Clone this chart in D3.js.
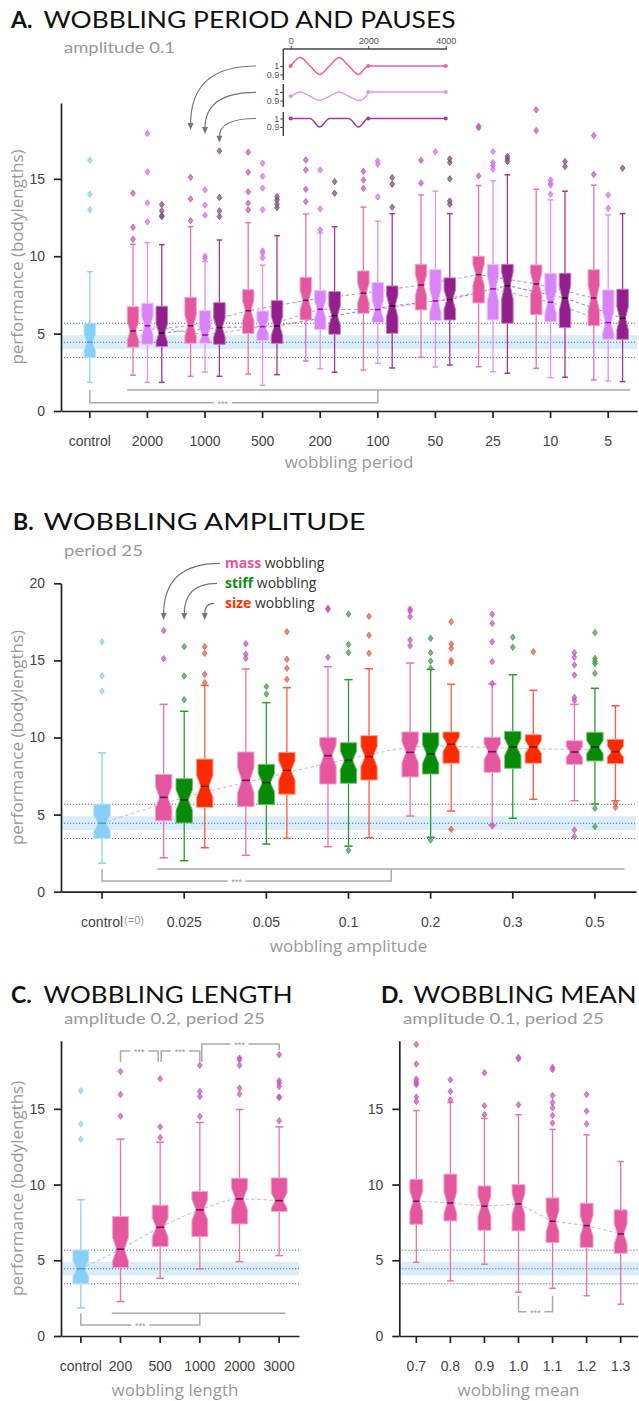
<!DOCTYPE html>
<html>
<head>
<meta charset="utf-8">
<script src="https://cdn.jsdelivr.net/npm/d3@7"></script>
<style>
  body { margin: 0; background: #fff; }
</style>
</head>
<body>
<div id="chart"></div>
<script>
// ---- data ----
// box stats are [lower whisker, q1, median, q3, upper whisker]
const controlStats = [1.85, 3.45, 4.44, 5.67, 9.0];
const controlOut = [13.0, 14.0, 16.2];
const controlCI = [4.0, 4.9];

const periodCats = ["control", "2000", "1000", "500", "200", "100", "50", "25", "10", "5"];
const periodSine = [
  [2.31, 4.12, 5.17, 6.74, 10.77], [2.24, 4.37, 5.51, 7.35, 11.91], [2.39, 5.0, 6.48, 7.84, 12.17],
  [3.23, 5.88, 7.15, 8.64, 12.73], [2.65, 6.31, 7.61, 9.05, 13.17], [3.47, 6.53, 8.14, 9.48, 13.96],
  [2.86, 6.98, 8.81, 10.0, 14.57], [2.76, 6.22, 8.21, 9.44, 14.33], [2.0, 5.51, 7.3, 9.13, 14.59]];
const periodSineOut = [
  [11.1, 11.87, 14.07], [12.3, 13.7, 15.1], [12.99, 13.43, 14.16, 15.43, 16.72],
  [13.53, 14.33, 15.58, 16.22], [14.39, 14.93, 15.49], [14.72, 16.2],
  [15.19, 18.3, 18.4], [18.12, 19.46], [15.28, 17.8]];
const periodLower = [
  [1.85, 4.31, 5.51, 6.96, 10.88], [2.52, 4.37, 4.91, 6.48, 9.65], [1.66, 4.55, 5.45, 6.46, 9.42],
  [2.73, 5.26, 6.57, 7.78, 11.5], [3.08, 5.71, 6.55, 8.3, 12.26], [2.84, 5.84, 7.11, 9.13, 14.2],
  [2.54, 5.88, 7.89, 9.46, 14.87], [2.15, 5.77, 7.03, 8.9, 13.64], [1.94, 4.63, 5.71, 7.82, 12.67]];
const periodLowerOut = [
  [12.22, 13.45, 15.45, 17.93], [9.85, 10.0, 12.65, 13.3, 14.29], [9.9, 10.2, 10.34, 13.01, 14.4, 15.17, 16.01],
  [11.7, 13.06, 15.58], [13.83, 15.95, 16.16], [16.76],
  [15.62, 15.86, 16.05, 16.76], [14.01, 14.6, 14.72, 14.93], [13.1, 13.96]];
const periodDips = [
  [1.85, 4.16, 5.04, 6.77, 10.75], [2.24, 4.31, 5.39, 7.0, 11.05], [2.35, 4.37, 5.49, 7.13, 11.33],
  [2.5, 4.96, 6.16, 7.71, 11.91], [2.78, 5.02, 6.79, 8.08, 12.75], [2.97, 5.88, 7.2, 8.6, 12.75],
  [2.44, 5.67, 8.1, 9.48, 15.26], [2.18, 5.39, 7.29, 8.9, 14.2], [1.9, 4.63, 5.99, 7.87, 12.75]];
const periodDipsOut = [
  [12.56, 12.62, 12.93, 13.34], [12.56, 12.93, 13.79, 16.8], [13.14, 13.36, 13.64, 13.85],
  [14.07, 14.82], [13.17, 14.65, 15.08], [13.36, 13.57, 15.0, 16.05, 16.29],
  [16.12, 16.3, 16.44], [15.79, 16.12], [15.69]];

// inset signals: time points and relative mass
const insetTicks = [0, 2000, 4000];
const sineT = [0, 250, 500, 750, 1000, 1250, 1500, 1750, 2000, 4000];
const sineV = [1, 1.1, 1, 0.9, 1, 1.1, 1, 0.9, 1, 1];
const lowerT = [0, 250, 500, 750, 1000, 1250, 1500, 1750, 1950, 2000, 4000];
const lowerV = [0.95, 1, 0.95, 0.9, 0.95, 1, 0.95, 0.9, 0.95, 1, 1];
const dipsT = [0, 500, 750, 1000, 1500, 1750, 2000, 4000];
const dipsV = [1, 1, 0.9, 1, 1, 0.9, 1, 1];

const ampCats = ["control", "0.025", "0.05", "0.1", "0.2", "0.3", "0.5"];
const ampMass = [
  [2.2, 4.6, 6.12, 7.6, 12.15], [2.36, 5.51, 7.22, 9.06, 14.44], [2.92, 6.98, 8.82, 10.01, 14.59],
  [4.91, 7.44, 9.04, 10.36, 14.83], [4.33, 7.74, 9.08, 10.01, 13.47], [5.9, 8.26, 9.06, 9.79, 12.15]];
const ampMassOut = [
  [15.11, 16.93], [15.13, 15.4, 16.08], [15.2, 18.3, 18.38],
  [15.95, 16.32, 17.83, 18.2, 18.33], [4.26, 13.51, 14.92, 16.21, 17.4, 17.99],
  [3.57, 4.0, 12.4, 12.6, 14.05, 14.7, 15.2, 15.5]];
const ampStiff = [
  [2.01, 4.46, 5.95, 7.33, 11.7], [3.09, 5.64, 7.07, 8.26, 12.26], [2.95, 7.03, 8.52, 9.66, 13.75],
  [3.53, 7.63, 8.93, 10.31, 14.42], [4.76, 8.0, 9.38, 10.4, 14.07], [5.69, 8.48, 9.38, 10.34, 13.19]];
const ampStiffOut = [
  [12.45, 13.99, 15.89], [12.82, 13.3], [2.68, 15.5, 16.04, 18.0],
  [3.35, 14.49, 14.96, 15.5, 16.43], [15.85, 16.5], [4.22, 5.41, 14.16, 14.8, 14.96, 15.13, 16.8]];
const ampSize = [
  [2.85, 5.47, 6.83, 8.6, 13.38], [3.46, 6.32, 7.87, 9.04, 13.23], [3.5, 7.24, 8.76, 10.12, 14.46],
  [5.23, 8.33, 9.56, 10.36, 13.45], [5.99, 8.33, 9.38, 10.18, 13.06], [5.9, 8.3, 9.08, 9.88, 12.06]];
const ampSizeOut = [
  [13.56, 14.1, 15.46, 15.89], [13.77, 14.49, 15.07, 16.86], [15.46, 16.63, 17.86],
  [4.05, 14.85, 15.0, 15.78, 16.06, 17.51], [15.56], [5.47, 5.73]];
const ampTrend = [4.44, 6.1, 7.4, 8.6, 9.45, 9.3, 9.2];

const lengthCats = ["control", "200", "500", "1000", "2000", "3000"];
const lengthStats = [
  [2.27, 4.52, 5.73, 7.89, 13.0], [3.81, 5.9, 7.18, 8.64, 12.8], [4.43, 6.56, 8.33, 9.54, 14.1],
  [4.91, 7.4, 9.05, 10.42, 14.96], [5.31, 8.22, 8.94, 10.44, 13.81]];
const lengthOut = [
  [14.52, 15.95, 17.47], [13.11, 13.81, 16.99], [14.5, 15.82, 16.15, 17.87],
  [15.97, 16.37, 17.87, 18.25, 18.35], [14.21, 15.75, 15.78, 16.48, 16.7, 16.85, 18.57]];

const meanCats = ["0.7", "0.8", "0.9", "1.0", "1.1", "1.2", "1.3"];
const meanStats = [
  [4.87, 7.38, 8.9, 10.35, 14.89], [3.64, 7.6, 8.79, 10.69, 15.42], [4.74, 6.98, 8.57, 9.91, 14.36],
  [2.89, 6.94, 8.72, 10.0, 14.61], [3.15, 6.17, 7.58, 9.12, 13.64], [2.66, 5.84, 7.29, 8.77, 13.28],
  [2.1, 5.46, 6.74, 8.33, 11.52]];
const meanOut = [
  [15.49, 15.78, 16.6, 16.7, 16.8, 16.97, 17.96, 19.25], [15.58, 16.15, 16.92], [14.61, 15.2, 17.38],
  [15.27, 18.3, 18.39], [14.06, 14.56, 15.07, 15.42, 15.88, 17.6, 17.73], [14.01, 14.85, 15.95], []];

// ---- styles ----
const width = 639;
const height = 1401;
const labelFont = `"Open Sans", Lato, sans-serif`;
const titleFont = `Lato, "Open Sans", sans-serif`;
const tickFont = `"Liberation Sans", Arial, sans-serif`;
const notchK = 0.23;

const cControl = {fill: "#87cff6", edge: "#b9e3fa", whisk: "#8ed3f5", med: "#4f9fd6", out: "#8dd0f4"};
const cPink = {fill: "#e4579e", edge: "#f3a8cc", whisk: "#ec72ad", med: "#74105c", out: "#c55bbb"};
const cLav = {fill: "#d884f7", edge: "#edc2fb", whisk: "#df93f7", med: "#b200c2", out: "#d474ea"};
const cPurp = {fill: "#921f8b", edge: "#c47cbc", whisk: "#a3349c", med: "#26061f", out: "#84507c"};
const cGreen = {fill: "#078a07", edge: "#77c477", whisk: "#2c9a2c", med: "#063506", out: "#4f9b52"};
const cRed = {fill: "#ff2b00", edge: "#ffa08a", whisk: "#ff5c3c", med: "#8a1600", out: "#e0624c"};

const svg = d3.select(`#chart`)
  .append(`svg`)
    .attr(`width`, width)
    .attr(`height`, height)
    .style(`font-family`, labelFont);

// ---- helpers ----
function title(x, x2, len, y, letter, text) {
  svg.append(`text`).attr(`x`, x).attr(`y`, y)
    .style(`font-family`, titleFont)
    .style(`font-size`, `23px`).style(`font-weight`, 700).attr(`fill`, `#111`).text(letter);
  svg.append(`text`).attr(`x`, x2).attr(`y`, y)
    .attr(`textLength`, len).attr(`lengthAdjust`, `spacingAndGlyphs`)
    .style(`font-family`, titleFont)
    .style(`font-size`, `23px`).attr(`fill`, `#111`).text(text);
}

function subtitle(x, y, len, text) {
  svg.append(`text`).attr(`x`, x).attr(`y`, y)
    .attr(`textLength`, len).attr(`lengthAdjust`, `spacingAndGlyphs`)
    .style(`font-family`, titleFont)
    .style(`font-size`, `15px`).attr(`fill`, `#999`).text(text);
}

function diamond(cx, cy) {
  return `M${cx},${cy - 3.2}L${cx + 2.4},${cy}L${cx},${cy + 3.2}L${cx - 2.4},${cy}Z`;
}

function drawBox(g, y, cx, w, s, col, outs) {
  const [lo, q1, med, q3, hi] = s;
  const iqr = q3 - q1;
  const nlo = Math.max(q1, med - notchK * iqr);
  const nhi = Math.min(q3, med + notchK * iqr);
  const l = cx - w / 2, r = cx + w / 2, ql = cx - w / 4, qr = cx + w / 4;

  g.append(`line`).attr(`x1`, cx).attr(`x2`, cx).attr(`y1`, y(q3)).attr(`y2`, y(hi))
    .attr(`stroke`, col.whisk).attr(`stroke-width`, 1.3);
  g.append(`line`).attr(`x1`, cx).attr(`x2`, cx).attr(`y1`, y(q1)).attr(`y2`, y(lo))
    .attr(`stroke`, col.whisk).attr(`stroke-width`, 1.3);
  [lo, hi].forEach(v => {
    g.append(`line`).attr(`x1`, ql).attr(`x2`, qr).attr(`y1`, y(v)).attr(`y2`, y(v))
      .attr(`stroke`, col.whisk).attr(`stroke-width`, 1.5);
  });

  const pts = [[l, y(q1)], [r, y(q1)], [r, y(nlo)], [qr, y(med)], [r, y(nhi)], [r, y(q3)],
               [l, y(q3)], [l, y(nhi)], [ql, y(med)], [l, y(nlo)]];
  g.append(`path`).attr(`d`, d3.line()(pts) + `Z`)
    .attr(`fill`, col.fill).attr(`stroke`, col.edge).attr(`stroke-width`, 1);

  g.append(`line`).attr(`x1`, ql).attr(`x2`, qr).attr(`y1`, y(med)).attr(`y2`, y(med))
    .attr(`stroke`, col.med).attr(`stroke-width`, 1.6);

  (outs || []).forEach(v => {
    g.append(`path`).attr(`d`, diamond(cx, y(v)))
      .attr(`fill`, col.out).attr(`fill-opacity`, 0.75)
      .attr(`stroke`, col.out).attr(`stroke-width`, 0.8);
  });
}

function controlBand(g, y, x0, x1) {
  g.append(`rect`).attr(`x`, x0).attr(`width`, x1 - x0)
    .attr(`y`, y(controlCI[1])).attr(`height`, y(controlCI[0]) - y(controlCI[1]))
    .attr(`fill`, `#dcedfa`);
  [controlStats[1], controlStats[2], controlStats[3]].forEach(v => {
    g.append(`line`).attr(`x1`, x0).attr(`x2`, x1).attr(`y1`, y(v)).attr(`y2`, y(v))
      .attr(`stroke`, `#3f6fae`).attr(`stroke-width`, 1)
      .attr(`stroke-dasharray`, `1.2,1.8`);
  });
}

function axes(g, x, y, yTicks, yLabel, xLabel, xLabelPos) {
  const xa = g.append(`g`).attr(`transform`, `translate(0,${y.range()[0]})`)
    .call(d3.axisBottom(x).tickSize(7).tickSizeOuter(0).tickPadding(18));
  const ya = g.append(`g`).attr(`transform`, `translate(${x.range()[0]},0)`)
    .call(d3.axisLeft(y).tickValues(yTicks).tickSize(7).tickSizeOuter(0).tickPadding(9));
  [xa, ya].forEach(a => {
    a.selectAll(`path, line`).attr(`stroke`, `#222`).attr(`stroke-width`, 1.7);
    a.selectAll(`text`).style(`font-family`, tickFont).style(`font-size`, `14px`).attr(`fill`, `#444`);
  });
  if (yLabel) {
    g.append(`text`)
      .attr(`transform`, `translate(17,${(y.range()[0] + y.range()[1]) / 2}) rotate(-90)`)
      .attr(`text-anchor`, `middle`).attr(`dy`, `0.35em`)
      .style(`font-size`, `17px`).attr(`fill`, `#999`).text(yLabel);
  }
  g.append(`text`).attr(`x`, xLabelPos[0]).attr(`y`, xLabelPos[1])
    .attr(`text-anchor`, `middle`).style(`font-size`, `17px`).attr(`fill`, `#999`).text(xLabel);
  return xa;
}

function sigLine(g, pts) {
  g.append(`path`).attr(`d`, d3.line()(pts)).attr(`fill`, `none`)
    .attr(`stroke`, `#aaa`).attr(`stroke-width`, 1.5);
}

function stars(g, cx, cy) {
  g.append(`rect`).attr(`x`, cx - 9).attr(`y`, cy - 4).attr(`width`, 18).attr(`height`, 8).attr(`fill`, `#fff`);
  g.append(`text`).attr(`x`, cx).attr(`y`, cy + 4).attr(`text-anchor`, `middle`)
    .style(`font-family`, tickFont).style(`font-size`, `9px`).attr(`fill`, `#999`).text(`***`);
}

function trend(g, pts, color, curve) {
  g.append(`path`).attr(`d`, d3.line().curve(curve || d3.curveLinear)(pts))
    .attr(`fill`, `none`).attr(`stroke`, color).attr(`stroke-width`, 1.1)
    .attr(`stroke-dasharray`, `3.5,2.5`);
}

function arrow(g, x0, y0, x1, y1) {
  g.append(`path`).attr(`d`, `M${x0},${y0}Q${x1},${y0} ${x1},${y1 - 6}`)
    .attr(`fill`, `none`).attr(`stroke`, `#777`).attr(`stroke-width`, 1.2);
  g.append(`path`).attr(`d`, `M${x1 - 3},${y1 - 7}L${x1 + 3},${y1 - 7}L${x1},${y1}Z`).attr(`fill`, `#777`);
}

// ======== A. period ========
title(11, 43.5, 412, 28, `A.`, `WOBBLING PERIOD AND PAUSES`);
subtitle(64, 53, 111, `amplitude 0.1`);

const gA = svg.append(`g`);
const xA = d3.scaleBand().domain(periodCats).range([61, 637]);
const yA = d3.scaleLinear().domain([0, 19.9]).range([411, 103]);
const stepA = xA.step();
const cxA = c => xA(c) + stepA / 2;

controlBand(gA, yA, 61, 637);
axes(gA, xA, yA, [0, 5, 10, 15], `performance (bodylengths)`, `wobbling period`, [349, 468]);

// significance
sigLine(gA, [[cxA(`2000`) - 0.35 * stepA, 390], [cxA(`5`) + 0.38 * stepA, 390]]);
sigLine(gA, [[cxA(`control`), 390], [cxA(`control`), 402.7], [cxA(`100`), 402.7], [cxA(`100`), 390]]);
stars(gA, (cxA(`control`) + cxA(`100`)) / 2 - 11, 402.7);

// median trend lines
[[periodSine, `#c99ac8`], [periodLower, `#c8a4ea`], [periodDips, `#a58ab4`]].forEach(([s, c], k) => {
  const off = (k - 1) * 0.25 * stepA;
  trend(gA, s.map((d, i) => [cxA(periodCats[i + 1]) + off, yA(d[2])]), c);
});

drawBox(gA, yA, cxA(`control`), 0.2 * stepA, controlStats, cControl, controlOut);
periodCats.slice(1).forEach((c, i) => {
  drawBox(gA, yA, cxA(c) - 0.25 * stepA, 0.2 * stepA, periodSine[i], cPink, periodSineOut[i]);
  drawBox(gA, yA, cxA(c), 0.2 * stepA, periodLower[i], cLav, periodLowerOut[i]);
  drawBox(gA, yA, cxA(c) + 0.25 * stepA, 0.2 * stepA, periodDips[i], cPurp, periodDipsOut[i]);
});

// inset with the wobbling signals
const gI = svg.append(`g`);
const tI = d3.scaleLinear().domain([0, 4000]).range([290.7, 445.7]);
const ax = gI.append(`g`).attr(`transform`, `translate(0,49)`)
  .call(d3.axisTop(tI).tickValues(insetTicks).tickSize(3).tickSizeOuter(0).tickPadding(2).tickFormat(d3.format(`d`)));
ax.select(`.domain`).remove();
ax.selectAll(`line`).attr(`stroke`, `#444`);
ax.selectAll(`text`).style(`font-family`, tickFont).style(`font-size`, `9px`).attr(`fill`, `#555`);
gI.append(`line`).attr(`x1`, 283.3).attr(`x2`, 447).attr(`y1`, 49).attr(`y2`, 49)
  .attr(`stroke`, `#444`).attr(`stroke-width`, 1.5);

const rows = [
  {t: sineT, v: sineV, base: 66, top: 49, bot: 80, color: `#ec5fa6`},
  {t: lowerT, v: lowerV, base: 92, top: 84, bot: 107, color: `#dc96f7`},
  {t: dipsT, v: dipsV, base: 118.5, top: 112, bot: 136, color: `#a43aa2`}
];
rows.forEach(r => {
  const yr = d3.scaleLinear().domain([0.9, 1]).range([r.base + 8.5, r.base]);
  gI.append(`line`).attr(`x1`, 283.3).attr(`x2`, 283.3).attr(`y1`, r.top).attr(`y2`, r.bot)
    .attr(`stroke`, `#444`).attr(`stroke-width`, 1.5);
  const ra = gI.append(`g`).attr(`transform`, `translate(283.3,0)`)
    .call(d3.axisLeft(yr).tickValues([0.9, 1]).tickSize(3).tickPadding(1).tickFormat(d => d === 1 ? `1` : `0.9`));
  ra.select(`.domain`).remove();
  ra.selectAll(`line`).attr(`stroke`, `#444`);
  ra.selectAll(`text`).style(`font-family`, tickFont).style(`font-size`, `9px`).attr(`fill`, `#555`);
  const pts = r.t.map((t, i) => [tI(t), yr(r.v[i])]);
  gI.append(`path`).attr(`d`, d3.line().curve(d3.curveMonotoneX)(pts))
    .attr(`fill`, `none`).attr(`stroke`, r.color).attr(`stroke-width`, 1.4);
  insetTicks.forEach(t => {
    const i = r.t.indexOf(t);
    gI.append(`circle`).attr(`cx`, tI(t)).attr(`cy`, yr(r.v[i])).attr(`r`, 2).attr(`fill`, r.color);
  });
});
arrow(gI, 256, 66, cxA(`1000`) - 0.25 * stepA, 130);
arrow(gI, 256, 92.3, cxA(`1000`), 134);
arrow(gI, 256, 118.5, cxA(`1000`) + 0.25 * stepA, 142.7);

// ======== B. amplitude ========
title(13, 43.5, 322, 530, `B.`, `WOBBLING AMPLITUDE`);
subtitle(64, 556, 79, `period 25`);

const gB = svg.append(`g`);
const xB = d3.scaleBand().domain(ampCats).range([61, 636]);
const yB = d3.scaleLinear().domain([0, 20]).range([891.7, 583.3]);
const stepB = xB.step();
const cxB = c => xB(c) + stepB / 2;

controlBand(gB, yB, 61, 636);
const xaB = axes(gB, xB, yB, [0, 5, 10, 15, 20], `performance (bodylengths)`, `wobbling amplitude`, [348.5, 952]);
xaB.selectAll(`.tick`).filter(d => d === `control`).append(`text`)
  .attr(`x`, 22).attr(`y`, 25).attr(`dy`, `0.71em`).attr(`text-anchor`, `start`)
  .style(`font-family`, tickFont).style(`font-size`, `11px`).attr(`fill`, `#999`)
  .text(`(=0)`);

sigLine(gB, [[cxB(`0.025`) - 0.33 * stepB, 869], [cxB(`0.5`) + 0.36 * stepB, 869]]);
sigLine(gB, [[cxB(`control`), 869], [cxB(`control`), 881], [cxB(`0.2`) - 0.48 * stepB, 881], [cxB(`0.2`) - 0.48 * stepB, 869]]);
stars(gB, (cxB(`control`) + cxB(`0.2`) - 0.48 * stepB) / 2 - 10, 881);

trend(gB, ampCats.map((c, i) => [cxB(c), yB(ampTrend[i])]), `#c4c4c4`, d3.curveMonotoneX);

drawBox(gB, yB, cxB(`control`), 0.2 * stepB, controlStats, cControl, controlOut);
ampCats.slice(1).forEach((c, i) => {
  drawBox(gB, yB, cxB(c) - 0.25 * stepB, 0.2 * stepB, ampMass[i], cPink, ampMassOut[i]);
  drawBox(gB, yB, cxB(c), 0.2 * stepB, ampStiff[i], cGreen, ampStiffOut[i]);
  drawBox(gB, yB, cxB(c) + 0.25 * stepB, 0.2 * stepB, ampSize[i], cRed, ampSizeOut[i]);
});

// legend
const legB = [[`mass`, `#e4579e`], [`stiff`, `#0f8f0f`], [`size`, `#ff3300`]];
legB.forEach(([name, c], i) => {
  const t = svg.append(`text`).attr(`x`, 225).attr(`y`, 568 + i * 20)
    .style(`font-size`, `14px`).attr(`fill`, `#333`);
  t.append(`tspan`).style(`font-weight`, 700).attr(`fill`, c).text(name);
  t.append(`tspan`).text(` wobbling`);
});
arrow(svg, 220, 563.3, cxB(`0.025`) - 0.25 * stepB, 620);
arrow(svg, 217, 583.3, cxB(`0.025`), 620);
arrow(svg, 214, 603.3, cxB(`0.025`) + 0.25 * stepB, 620);

// ======== C. length ========
title(11, 43.5, 249, 1003, `C.`, `WOBBLING LENGTH`);
subtitle(64, 1023.5, 201, `amplitude 0.2, period 25`);

const gC = svg.append(`g`);
const xC = d3.scaleBand().domain(lengthCats).range([61, 299]);
const yC = d3.scaleLinear().domain([0, 19.5]).range([1336, 1040.7]);
const stepC = xC.step();
const cxC = c => xC(c) + stepC / 2;

controlBand(gC, yC, 61, 299);
axes(gC, xC, yC, [0, 5, 10, 15], `performance (bodylengths)`, `wobbling length`, [175, 1396]);

sigLine(gC, [[cxC(`200`) - 0.22 * stepC, 1313.3], [cxC(`3000`) + 0.16 * stepC, 1313.3]]);
sigLine(gC, [[cxC(`control`), 1313.3], [cxC(`control`), 1325], [cxC(`1000`), 1325], [cxC(`1000`), 1313.3]]);
stars(gC, (cxC(`control`) + cxC(`1000`)) / 2, 1325);
sigLine(gC, [[cxC(`200`), 1062], [cxC(`200`), 1051], [cxC(`500`) - 2, 1051], [cxC(`500`) - 2, 1062]]);
stars(gC, (cxC(`200`) + cxC(`500`)) / 2 - 1, 1051);
sigLine(gC, [[cxC(`500`) + 1, 1062], [cxC(`500`) + 1, 1051], [cxC(`1000`), 1051], [cxC(`1000`), 1062]]);
stars(gC, (cxC(`500`) + cxC(`1000`)) / 2, 1051);
sigLine(gC, [[cxC(`1000`) + 2, 1062], [cxC(`1000`) + 2, 1044], [cxC(`3000`), 1044], [cxC(`3000`), 1050]]);
stars(gC, (cxC(`1000`) + cxC(`3000`)) / 2, 1044);

const medC = [controlStats[2]].concat(lengthStats.map(d => d[2]));
trend(gC, lengthCats.map((c, i) => [cxC(c), yC(medC[i])]), `#c4c4c4`, d3.curveMonotoneX);

drawBox(gC, yC, cxC(`control`), 0.4 * stepC, controlStats, cControl, controlOut);
lengthCats.slice(1).forEach((c, i) => {
  drawBox(gC, yC, cxC(c), 0.4 * stepC, lengthStats[i], cPink, lengthOut[i]);
});

// ======== D. mean ========
title(381, 413.5, 223, 1003, `D.`, `WOBBLING MEAN`);
subtitle(403, 1023.5, 201, `amplitude 0.1, period 25`);

const gD = svg.append(`g`);
const xD = d3.scaleBand().domain(meanCats).range([399.3, 637.7]);
const yD = d3.scaleLinear().domain([0, 19.5]).range([1336, 1040.7]);
const stepD = xD.step();
const cxD = c => xD(c) + stepD / 2;

controlBand(gD, yD, 399.3, 639);
axes(gD, xD, yD, [0, 5, 10, 15], null, `wobbling mean`, [518.5, 1396]);

sigLine(gD, [[cxD(`1.0`), 1295.7], [cxD(`1.0`), 1311.7], [cxD(`1.1`), 1311.7], [cxD(`1.1`), 1295.7]]);
stars(gD, (cxD(`1.0`) + cxD(`1.1`)) / 2, 1311.7);

trend(gD, meanCats.map((c, i) => [cxD(c), yD(meanStats[i][2])]), `#c4c4c4`);

meanCats.forEach((c, i) => {
  drawBox(gD, yD, cxD(c), 0.38 * stepD, meanStats[i], cPink, meanOut[i]);
});
</script>
</body>
</html>
